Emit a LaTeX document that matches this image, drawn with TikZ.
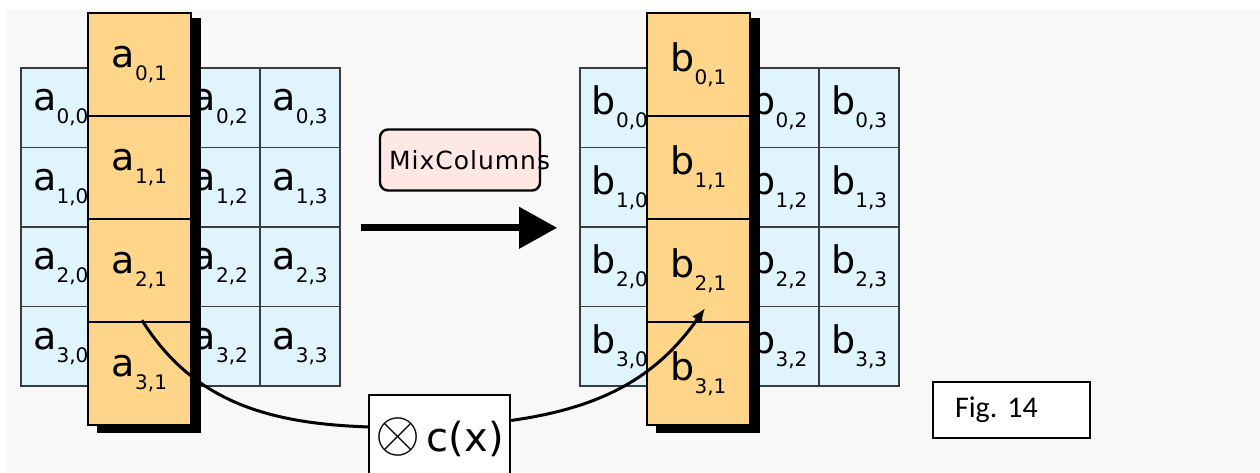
\documentclass[tikz,border=0pt]{standalone}
\usepackage{fontspec}
\setmainfont{DejaVu Sans}
\newfontfamily\figfont{Carlito}
\usetikzlibrary{positioning,arrows.meta,calc}
\definecolor{bggray}{HTML}{F8F8F8}
\definecolor{cellblue}{HTML}{DFF4FC}
\definecolor{cellorange}{HTML}{FFD589}
\definecolor{mixpink}{HTML}{FFE8E4}
\definecolor{gridline}{HTML}{3C3C3C}
\newcommand\ent[3]{{\fontsize{19}{19}\selectfont #1\raisebox{-6.5pt}{\fontsize{10}{10}\selectfont #2,#3}}}

\begin{document}
\begin{tikzpicture}[x=0.5pt,y=0.5pt,
  bluecell/.style={draw=gridline, line width=0.8pt, fill=cellblue, minimum width=39.875pt, minimum height=39.75pt, inner sep=0pt},
  orangecell/.style={draw=black, line width=1.2pt, fill=cellorange, minimum width=51.5pt, minimum height=51.5pt, inner sep=0pt},
  conn/.style={line width=1.5pt, black},
  plainbox/.style={draw=black, line width=1.2pt, fill=white, inner sep=0pt}]
\useasboundingbox (0,0) rectangle (1260,472);
\fill[bggray] (7,0) rectangle (1260,463);
% state before and after
\foreach \m/\dx in {a/0,b/559}{
  \foreach \r in {0,...,3}
    \foreach \c in {0,2,3}
      \node[bluecell] (\m\r\c) at ({\dx+21+79.75*(\c+0.5)},{404-79.5*(\r+0.5)}) {\ent{\m}{\r}{\c}};
  \fill[black] ({\dx+97},39) rectangle ({\dx+201},454);
  \foreach \r in {0,...,3}
    \node[orangecell] (\m\r1) at ({\dx+139.5},{459-103*(\r+0.5)}) {\ent{\m}{\r}{1}};
}
% operation
\node[draw=black, line width=1.2pt, fill=mixpink, rounded corners=4pt, minimum width=80pt, minimum height=30.5pt, inner sep=0pt] (mix) at (460,312) {\fontsize{12.5}{12.5}\selectfont\addfontfeature{LetterSpace=4}\makebox[80pt][l]{\hspace{4.5pt}MixColumns}};
\draw[line width=3.5pt, -{Triangle[length=19pt,width=20pt]}] ($(a13.south east)+(20,0)$) -- ($(b10.south west)+(-22,0)$);
\node[plainbox, minimum width=70.5pt, minimum height=42pt] (cx) at (439.5,35) {\fontsize{20}{20}\selectfont\scalebox{1.4}{$\otimes$}\,c(x)};
\coordinate (from) at ($(a21.south)+(2.5,3)$);
\coordinate (to) at ($(b21.south)+(6.5,15)$);
\draw[conn] (from) to[out=-58,in=178] (cx.172);
\draw[conn,-{Latex[length=7pt,width=6pt]}] (cx.13) to[out=8,in=-125] (to);
\node[plainbox, line width=1pt, minimum width=78.5pt, minimum height=28pt, text width=56.5pt, align=left, inner xsep=11pt] (fig) at (1011.5,62) {\figfont\fontsize{15}{15}\selectfont Fig. 14};
\end{tikzpicture}
\end{document}
